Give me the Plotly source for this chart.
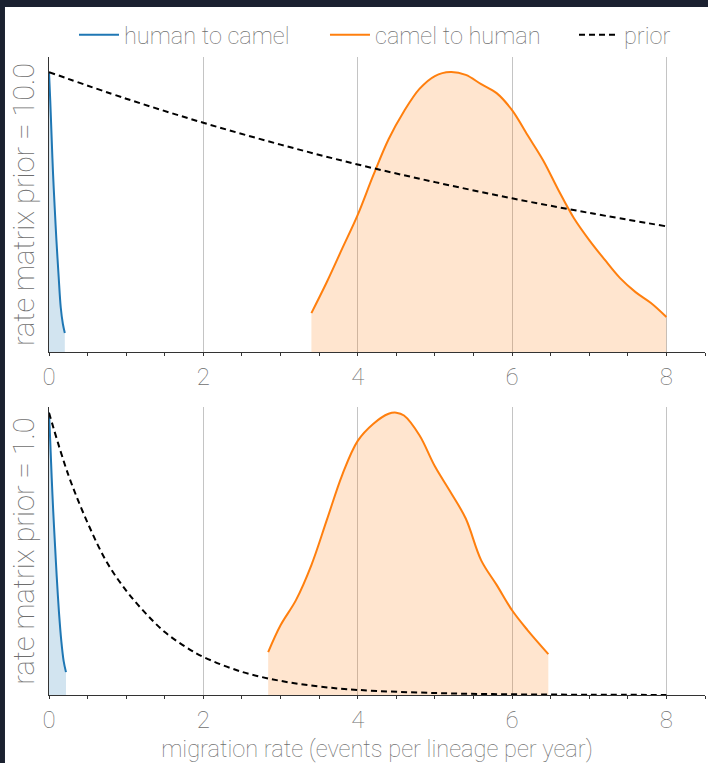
import plotly.graph_objects as go
from plotly.subplots import make_subplots

# ---------------- data ----------------
# top panel: rate matrix prior = 10.0
h2c_x_top = [0.0, 0.016, 0.035, 0.052, 0.075, 0.096, 0.125, 0.152, 0.18, 0.205]
h2c_y_top = [1.0, 0.90, 0.76, 0.64, 0.51, 0.40, 0.27, 0.16, 0.10, 0.068]

c2h_x_top = [3.40, 3.6, 3.8, 4.0, 4.2, 4.4, 4.6, 4.8, 5.0, 5.2, 5.4, 5.6, 5.8, 6.0,
             6.2, 6.4, 6.6, 6.8, 7.0, 7.2, 7.4, 7.6, 7.8, 8.0]
c2h_y_top = [0.139, 0.25, 0.37, 0.49, 0.63, 0.76, 0.86, 0.94, 0.986, 1.0, 0.99, 0.957,
             0.925, 0.864, 0.775, 0.686, 0.579, 0.479, 0.40, 0.33, 0.264, 0.214, 0.175, 0.125]

prior_x_top = [0, 1, 2, 3, 4, 5, 6, 7, 8]
prior_y_top = [1.0, 0.905, 0.819, 0.741, 0.670, 0.607, 0.549, 0.497, 0.449]

# bottom panel: rate matrix prior = 1.0
h2c_x_bot = [0.0, 0.016, 0.035, 0.055, 0.08, 0.10, 0.13, 0.16, 0.19, 0.22]
h2c_y_bot = [1.0, 0.90, 0.77, 0.65, 0.52, 0.42, 0.29, 0.19, 0.12, 0.081]

c2h_x_bot = [2.84, 3.0, 3.2, 3.4, 3.6, 3.8, 4.0, 4.2, 4.4, 4.5, 4.6, 4.8, 5.0, 5.2,
             5.4, 5.6, 5.8, 6.0, 6.2, 6.47]
c2h_y_bot = [0.152, 0.247, 0.336, 0.46, 0.62, 0.78, 0.90, 0.96, 0.996, 1.0, 0.99, 0.92,
             0.81, 0.72, 0.625, 0.477, 0.39, 0.30, 0.23, 0.145]

prior_x_bot = [0, 0.25, 0.5, 0.75, 1.0, 1.25, 1.5, 1.75, 2.0, 2.5, 3.0, 3.5, 4.0, 5.0, 6.0, 7.0, 8.0]
prior_y_bot = [1.0, 0.78, 0.61, 0.47, 0.37, 0.29, 0.223, 0.174, 0.135, 0.082, 0.05,
               0.03, 0.018, 0.007, 0.0025, 0.001, 0.0003]

series_names = ["human to camel", "camel to human", "prior"]
panel_titles = ["rate matrix prior = 10.0", "rate matrix prior = 1.0"]
x_tick_vals = [0, 2, 4, 6, 8]
x_title = "migration rate (events per lineage per year)"

BLUE = "#1f77b4"
ORANGE = "#ff7f0e"
BLUE_FILL = "rgba(31,119,180,0.2)"
ORANGE_FILL = "rgba(255,127,14,0.2)"
TEXT = "#6e6e6e"
FONT = "Roboto"
W = 100
DARK = "#1b2130"

fig = make_subplots(rows=2, cols=1, vertical_spacing=0.0)

panels = [
    (h2c_x_top, h2c_y_top, c2h_x_top, c2h_y_top, prior_x_top, prior_y_top),
    (h2c_x_bot, h2c_y_bot, c2h_x_bot, c2h_y_bot, prior_x_bot, prior_y_bot),
]
for i, (hx, hy, cx, cy, px, py) in enumerate(panels):
    row = i + 1
    fig.add_trace(go.Scatter(x=hx, y=hy, mode="lines", name=series_names[0],
                             line=dict(color=BLUE, width=2, shape="spline"),
                             fill="tozeroy", fillcolor=BLUE_FILL,
                             showlegend=False), row=row, col=1)
    fig.add_trace(go.Scatter(x=cx, y=cy, mode="lines", name=series_names[1],
                             line=dict(color=ORANGE, width=2, shape="spline"),
                             fill="tozeroy", fillcolor=ORANGE_FILL,
                             showlegend=False), row=row, col=1)
    fig.add_trace(go.Scatter(x=px, y=py, mode="lines", name=series_names[2],
                             line=dict(color="black", width=2, dash="6px,4px", shape="spline"),
                             showlegend=False), row=row, col=1)

# legend-only entries (plain line samples, no fill swatch)
legend_ids = ["legend", "legend2", "legend3"]
legend_styles = [dict(color=BLUE, width=2), dict(color=ORANGE, width=2),
                 dict(color="black", width=2, dash="6px,4px")]
for name, lid, st in zip(series_names, legend_ids, legend_styles):
    fig.add_trace(go.Scatter(x=[None], y=[None], mode="lines", name=name, line=st,
                             legend=lid, showlegend=True), row=1, col=1)

# plot area x 49..705, top panel y 57..352, bottom 407..695
fig.update_layout(
    yaxis=dict(domain=[0.5376, 1.0]),
    yaxis2=dict(domain=[0.0, 0.4514]),
)

for i in range(2):
    xa = "xaxis" if i == 0 else "xaxis2"
    ya = "yaxis" if i == 0 else "yaxis2"
    fig.layout[xa].update(
        range=[0, 8.5], tickvals=x_tick_vals, ticktext=[str(v) for v in x_tick_vals],
        showgrid=True, gridcolor="#c4c4c4", gridwidth=1,
        showline=True, linecolor="#333333", linewidth=1,
        ticks="outside", ticklen=3, tickcolor="#333333", tickwidth=1,
        minor=dict(dtick=0.5, tick0=0, ticks="outside", ticklen=3,
                   tickcolor="#333333", showgrid=False),
        zeroline=False, automargin=False,
        tickfont=dict(size=24, color=TEXT, family=FONT, weight=W),
    )
    fig.layout[ya].update(
        range=[0, 1.054] if i == 0 else [0, 1.02],
        showgrid=False, showticklabels=False, ticks="", zeroline=False,
        showline=True, linecolor="#333333", linewidth=1, automargin=False,
        title=dict(text=panel_titles[i], standoff=4,
                   font=dict(size=29, color=TEXT, family=FONT, weight=W)),
    )
fig.layout.xaxis2.title = dict(text=x_title, standoff=9,
                               font=dict(size=23.6, color=TEXT, family=FONT, weight=W))

legend_common = dict(orientation="h", xanchor="left", y=1.0345, yanchor="middle",
                     bgcolor="rgba(0,0,0,0)", itemwidth=40,
                     font=dict(size=23.5, color=TEXT, family=FONT, weight=W))
fig.update_layout(
    width=708, height=763,
    margin=dict(l=49, r=3, t=57, b=68, autoexpand=False),
    paper_bgcolor="white",
    plot_bgcolor="white",
    font=dict(family=FONT, color=TEXT, weight=W),
    legend=dict(x=0.0381, **legend_common),
    legend2=dict(x=0.4207, **legend_common),
    legend3=dict(x=0.8003, **legend_common),
    shapes=[
        dict(type="rect", xref="paper", yref="paper", layer="above",
             x0=-1, x1=2, y0=1.0784, y1=2, fillcolor=DARK, line=dict(width=0)),
        dict(type="rect", xref="paper", yref="paper", layer="above",
             x0=-1, x1=-0.0671, y0=-1, y1=2, fillcolor=DARK, line=dict(width=0)),
    ],
)

fig.write_html(
    "out.html",
    config={"displayModeBar": False},
    post_script="document.body.style.margin='0';document.body.style.overflow='hidden';",
)
